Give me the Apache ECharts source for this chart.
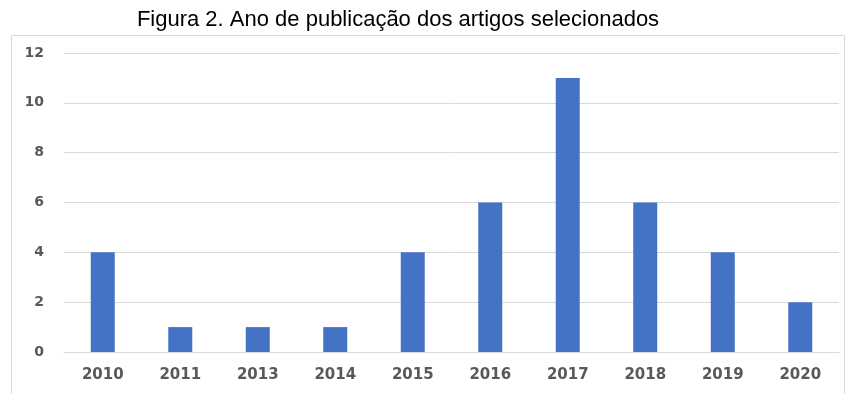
<!DOCTYPE html>
<html>
<head>
<meta charset="utf-8">
<script src="https://cdn.jsdelivr.net/npm/echarts@6/dist/echarts.min.js"></script>
<style>
html,body{margin:0;padding:0;background:#fff;}
#chart{width:852px;height:394px;}
</style>
</head>
<body>
<div id="chart"></div>
<script>
const titleText = 'Figura 2. Ano de publicação dos artigos selecionados';
const years = ['2010','2011','2013','2014','2015','2016','2017','2018','2019','2020'];
const counts = [4, 1, 1, 1, 4, 6, 11, 6, 4, 2];
const yTicks = [0, 2, 4, 6, 8, 10, 12];

const chart = echarts.init(document.getElementById('chart'), null, {renderer: 'canvas'});
chart.setOption({
  animation: false,
  backgroundColor: '#ffffff',
  title: {
    text: titleText,
    left: 393,
    textAlign: 'center',
    top: 4,
    textStyle: {fontFamily: 'Liberation Sans, Arial, sans-serif', fontSize: 22, fontWeight: 'normal', color: '#000000'}
  },
  graphic: [{
    type: 'rect',
    shape: {x: 11.5, y: 35.5, width: 833, height: 370},
    style: {fill: 'none', stroke: '#d9d9d9', lineWidth: 1},
    silent: true
  }],
  grid: {left: 64, right: 13, top: 53, bottom: 42, containLabel: false},
  xAxis: {
    type: 'category',
    data: years,
    axisLine: {show: true, lineStyle: {color: '#d9d9d9'}},
    axisTick: {show: false},
    axisLabel: {color: '#595959', fontFamily: 'DejaVu Sans, sans-serif', fontWeight: 'bold', fontSize: 15, margin: 16}
  },
  yAxis: {
    type: 'value',
    min: yTicks[0],
    max: yTicks[yTicks.length - 1],
    interval: 2,
    axisLine: {show: false},
    axisTick: {show: false},
    splitLine: {lineStyle: {color: '#d9d9d9'}},
    axisLabel: {color: '#595959', fontFamily: 'DejaVu Sans, sans-serif', fontWeight: 'bold', fontSize: 14, margin: 20}
  },
  series: [{
    type: 'bar',
    data: counts,
    barWidth: 24,
    itemStyle: {color: '#4472C4'}
  }]
});
</script>
</body>
</html>
